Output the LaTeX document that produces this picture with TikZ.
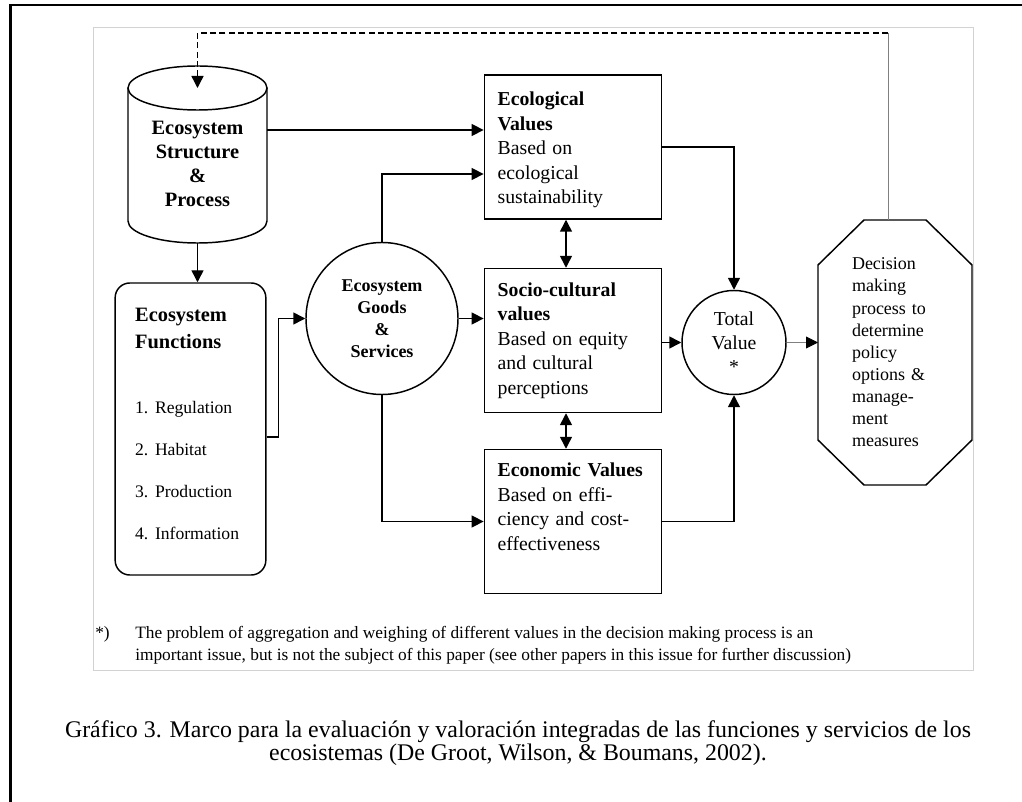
\documentclass[tikz,border=0pt]{standalone}
\usepackage{fontspec}
\setmainfont{Liberation Serif}
\usetikzlibrary{arrows.meta}

\tikzset{
  arr/.style={-{Triangle[length=9pt,width=9pt]}, line width=1.1pt},
  dblarr/.style={{Triangle[length=9pt,width=9pt]}-{Triangle[length=9pt,width=9pt]}, line width=1.1pt},
  thinarr/.style={-{Triangle[length=9pt,width=9pt,color=black]}, gray, line width=0.7pt},
  fbline/.style={gray, line width=0.7pt},
  fbarr/.style={arr, dash pattern=on 4.5pt off 2.5pt},
  outline/.style={line width=1.1pt},
  valbox/.style={draw, line width=1.1pt, minimum width=133pt, minimum height=108pt,
    text width=113pt, inner xsep=10pt, align=left, font=\fontsize{14.8}{18.4}\selectfont},
}

\begin{document}
\begin{tikzpicture}[x=0.75pt, y=-0.75pt]
\useasboundingbox (0,0) rectangle (1022,802);

% page edge and frame of the figure
\draw[line width=1.8pt] (10.5,802) -- (10.5,5) -- (1022,5);
\draw[gray!35, line width=0.6pt] (93,27) rectangle (973,670);

% nodes
\node[minimum width=104.25pt, minimum height=132.75pt, outer sep=0pt, align=center,
  font=\fontsize{15.3}{18}\selectfont\bfseries] (struct) at (197.5,154.5)
  {\rule{0pt}{24.6pt}Ecosystem\\Structure\\\&\\Process};
\draw[outline] ([yshift=-16.5pt]struct.north west) -- ([yshift=16.5pt]struct.south west)
  arc[start angle=180, end angle=0, x radius=69.5, y radius=22] -- ([yshift=-16.5pt]struct.north east);
\draw[outline] ([yshift=-16.5pt]struct.north) ellipse[x radius=69.5, y radius=22];

\node[draw, rounded corners=11pt, line width=1.1pt, minimum width=113pt, minimum height=219pt,
  text width=83pt, inner xsep=15pt, align=left] (func) at (190.5,429)
  {\fontsize{15.3}{18.4}\selectfont\bfseries Ecosystem\\[2pt]Functions\\[32.75pt]
   \fontsize{13.2}{16}\selectfont\mdseries 1. Regulation\\[15.5pt]2. Habitat\\[15.5pt]3. Production\\[15.5pt]4. Information\\[-4pt]\mbox{}};

\node[draw, circle, line width=1.1pt, minimum size=114pt, inner sep=0pt, align=center,
  font=\fontsize{13.5}{16.5}\selectfont\bfseries] (goods) at (382,318.5)
  {Ecosystem\\Goods\\\&\\Services};

\node[valbox] (ecol) at (573,147)
  {\rule{0pt}{14.7pt}{\bfseries Ecological\\Values}\\Based on\\ecological\\sustainability};
\node[valbox] (socio) at (573,340.5)
  {{\bfseries Socio-cultural\\values}\\Based on equity\\and cultural\\perceptions};
\node[valbox] (econ) at (573,521.5)
  {{\bfseries Economic Values}\\Based on effi-\\ciency and cost-\\effectiveness\\[4pt]\mbox{}};

\node[draw, circle, line width=1.1pt, minimum size=78pt, inner sep=0pt, align=center,
  font=\fontsize{14.8}{18}\selectfont] (total) at (734,342.5) {Total\\Value\\*};

\node[minimum width=115.5pt, minimum height=198.75pt, outer sep=0pt, text width=64.5pt, align=left,
  font=\fontsize{13.5}{16.6}\selectfont] (dec) at (895,352.5)
  {Decision\\making\\process to\\determine\\policy\\options \&\\manage-\\ment\\measures};
\draw[outline] ([xshift=34.5pt]dec.north west) -- ([xshift=-34.5pt]dec.north east)
  -- ([yshift=-33.75pt]dec.north east) -- ([yshift=33.75pt]dec.south east)
  -- ([xshift=-34.5pt]dec.south east) -- ([xshift=34.5pt]dec.south west)
  -- ([yshift=33.75pt]dec.south west) -- ([yshift=-33.75pt]dec.north west) -- cycle;

\coordinate (fbcorner) at (888,33);
\coordinate (fbtip) at ([yshift=-16.5pt]struct.north);

% connectors
\draw[arr] (struct.east |- 0,130) -- (ecol.west |- 0,130);
\draw[arr] (struct.south) -- (struct.south |- func.north);
\draw[arr] (func.east |- 0,437) -- ++(12,0) |- (goods.west);
\draw[arr] (goods.north) |- (ecol.west |- 0,174);
\draw[arr] (goods.east) -- (goods.east -| socio.west);
\draw[arr] (goods.south) |- (econ.west);
\draw[dblarr] (ecol.south -| 566,0) -- (socio.north -| 566,0);
\draw[dblarr] (socio.south -| 566,0) -- (econ.north -| 566,0);
\draw[arr] (ecol.east) -| (total.north);
\draw[arr] (total.west -| socio.east) -- (total.west);
\draw[arr] (econ.east) -| (total.south);
\draw[thinarr] (total.east) -- (total.east -| dec.west);
\draw[fbline] (dec.north -| fbcorner) -- (fbcorner);
\draw[fbarr] (fbcorner) -| (fbtip);

% footnote and caption
\node[anchor=north west, inner sep=0pt, font=\fontsize{13}{16.5}\selectfont] (star) at (95,626) {*)};
\node[anchor=north west, inner sep=0pt, align=left, font=\fontsize{13}{16.5}\selectfont] (note) at (135,626)
  {The problem of aggregation and weighing of different values in the decision making process is an\\
   important issue, but is not the subject of this paper (see other papers in this issue for further discussion)};
\node[align=center, font=\fontsize{17.9}{13}\selectfont] (caption) at (518,743)
  {Gráfico 3. Marco para la evaluación y valoración integradas de las funciones y servicios de los\\
   ecosistemas (De Groot, Wilson, \& Boumans, 2002).};
\end{tikzpicture}
\end{document}
